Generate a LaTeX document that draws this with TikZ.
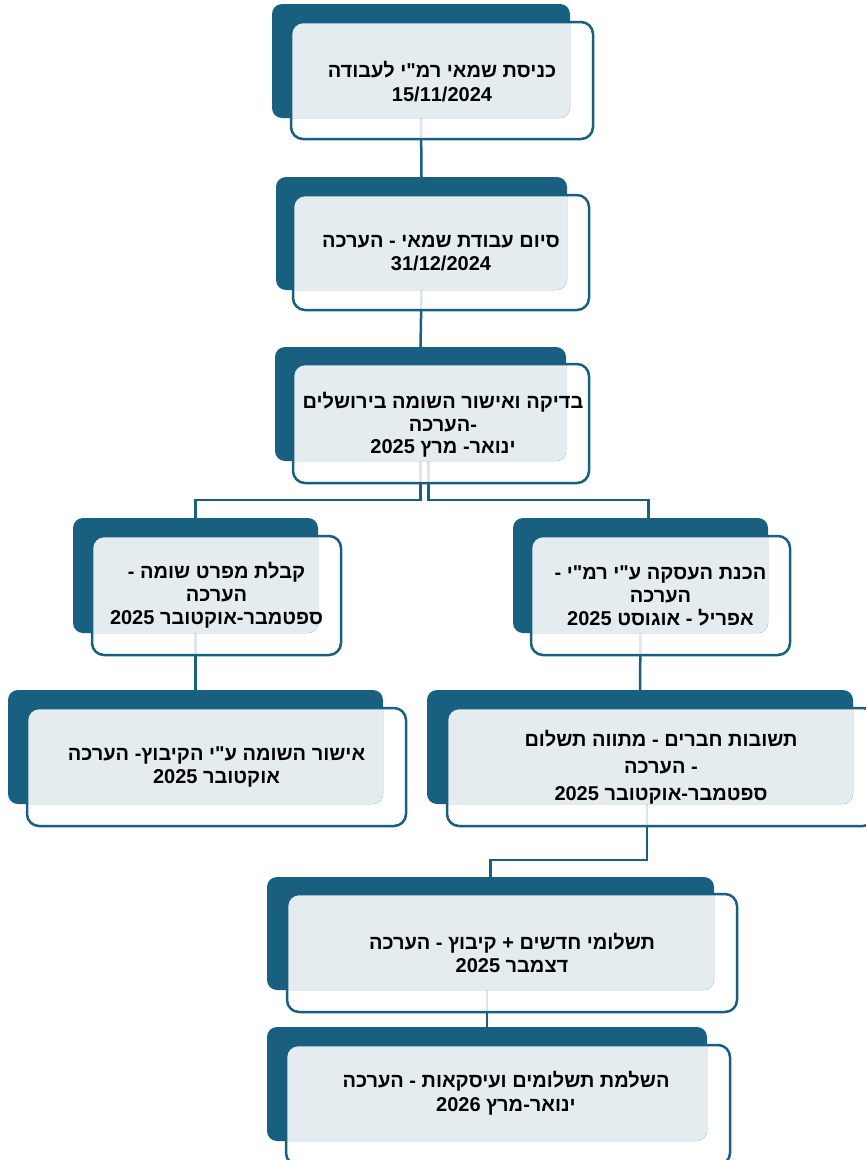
\documentclass[tikz,border=0pt]{standalone}
\usepackage{fontspec}
\newfontfamily\heb[Script=Hebrew]{Liberation Sans}
\TeXXeTstate=1
\definecolor{dkblue}{RGB}{24,95,128}
\definecolor{lightbg}{RGB}{229,236,240}
\newcommand\hebline[1]{\beginR #1\endR}
\newcommand\latinrun[1]{\beginL #1\endL{}}
\tikzset{
  darkbox/.style={fill=dkblue, draw=none, rounded corners=10pt, inner sep=0pt, outer sep=0pt},
  outfill/.style={fill=white, fill opacity=0.85, draw=none, rounded corners=12pt, inner sep=0pt, outer sep=0pt},
  outline/.style={draw=dkblue, line width=2.5pt, rounded corners=12pt},
  lightfill/.style={fill=lightbg},
  conn/.style={draw=dkblue, line width=2.5pt},
  place/.style={anchor=north west, inner sep=0pt, outer sep=0pt},
  txt/.style={align=center, text=black, inner sep=0pt, font=\heb\bfseries\fontsize{20}{23.5}\selectfont},
}
% name, dark NW, dark w, dark h, outline NW, outline w, outline h
\newcommand\tlbox[7]{%
  \node[outfill, anchor=north west, minimum width=#6, minimum height=#7] (#1o) at (#5) {};
  \node[darkbox, anchor=north west, minimum width=#3, minimum height=#4] (#1d) at (#2) {};
  \begin{scope}
    \clip[rounded corners=10pt] (#1d.south west) rectangle (#1d.north east);
    \fill[lightfill, rounded corners=12pt] (#1o.south west) rectangle (#1o.north east);
  \end{scope}
  \draw[outline] (#1o.south west) rectangle (#1o.north east);
}
\begin{document}
\begin{tikzpicture}[x=1pt,y=1pt]
\useasboundingbox (0,0) rectangle (866,-1160);
% invisible placement nodes (same geometry as the dark boxes) for the connectors
\begin{scope}[opacity=0]
  \node[place, minimum width=298, minimum height=114] (p1) at (272,-4) {};
  \node[place, minimum width=291, minimum height=113] (p2) at (276,-177) {};
  \node[place, minimum width=291, minimum height=114] (p3) at (275,-347) {};
  \node[place, minimum width=245, minimum height=115] (p4) at (73,-518) {};
  \node[place, minimum width=255, minimum height=115] (p5) at (513,-518) {};
  \node[place, minimum width=375, minimum height=114] (p6) at (8,-690) {};
  \node[place, minimum width=426, minimum height=114] (p7) at (427,-690) {};
  \node[place, minimum width=447, minimum height=113] (p8) at (267,-877) {};
  \node[place, minimum width=440, minimum height=114] (p9) at (267,-1027) {};
\end{scope}
\coordinate (j1) at (0,-500);
\coordinate (j2) at (0,-860);
% connectors
\draw[conn] (p1.south) -- (p2.north);
\draw[conn] (p2.south) -- (p3.north);
\draw[conn] (p3.south) -- (p3.south |- j1) -| (p4.north);
\draw[conn] ([xshift=8pt]p3.south) -- ([xshift=8pt]p3.south |- j1) -| ([xshift=8pt]p5.north);
\draw[conn] (p4.south) -- (p6.north);
\draw[conn] (p5.south) -- (p7.north);
\draw[conn] ([xshift=7pt]p7.south) -- ([xshift=7pt]p7.south |- j2) -| (p8.north);
\draw[conn] (p9.north |- p8.south) -- (p9.north);
% boxes
\tlbox{b1}{272,-4}{298}{114}{291,-22}{302}{117}
\tlbox{b2}{276,-177}{291}{113}{293,-195}{296}{115}
\tlbox{b3}{275,-347}{291}{114}{293,-364}{296}{119}
\tlbox{b4}{73,-518}{245}{115}{92,-536}{249}{119}
\tlbox{b5}{513,-518}{255}{115}{531,-536}{259}{119}
\tlbox{b6}{8,-690}{375}{114}{27,-708}{379}{118}
\tlbox{b7}{427,-690}{426}{114}{447,-708}{428}{118}
\tlbox{b8}{267,-877}{447}{113}{287,-894}{450}{118}
\tlbox{b9}{267,-1027}{440}{114}{286,-1045}{444}{120}
% texts
\node[txt] (t1) at (442,-81.5) {\hebline{כניסת שמאי רמ"י לעבודה}\\15/11/2024};
\node[txt] (t2) at (441,-253) {\hebline{סיום עבודת שמאי - הערכה}\\31/12/2024};
\node[txt, font=\heb\bfseries\fontsize{20}{22.5}\selectfont] (t3) at (443,-425) {\hebline{בדיקה ואישור השומה בירושלים}\\\hebline{-הערכה}\\\hebline{ינואר- מרץ \latinrun{2025}}};
\node[txt, font=\heb\bfseries\fontsize{20}{23}\selectfont] (t4) at (216.5,-595.5) {\hebline{קבלת מפרט שומה -}\\\hebline{הערכה}\\\hebline{ספטמבר-אוקטובר \latinrun{2025}}};
\node[txt, font=\heb\bfseries\fontsize{20}{23}\selectfont] (t5) at (660.5,-595.5) {\hebline{הכנת העסקה ע"י רמ"י -}\\\hebline{הערכה}\\\hebline{אפריל - אוגוסט \latinrun{2025}}};
\node[txt] (t6) at (216.5,-767) {\hebline{אישור השומה ע"י הקיבוץ- הערכה}\\\hebline{אוקטובר \latinrun{2025}}};
\node[txt, font=\heb\bfseries\fontsize{20}{27}\selectfont] (t7) at (661,-767) {\hebline{תשובות חברים - מתווה תשלום}\\\hebline{- הערכה}\\\hebline{ספטמבר-אוקטובר \latinrun{2025}}};
\node[txt] (t8) at (512,-953) {\hebline{תשלומי חדשים + קיבוץ - הערכה}\\\hebline{דצמבר \latinrun{2025}}};
\node[txt] (t9) at (506,-1093) {\hebline{השלמת תשלומים ועיסקאות - הערכה}\\\hebline{ינואר-מרץ \latinrun{2026}}};
\end{tikzpicture}
\end{document}
